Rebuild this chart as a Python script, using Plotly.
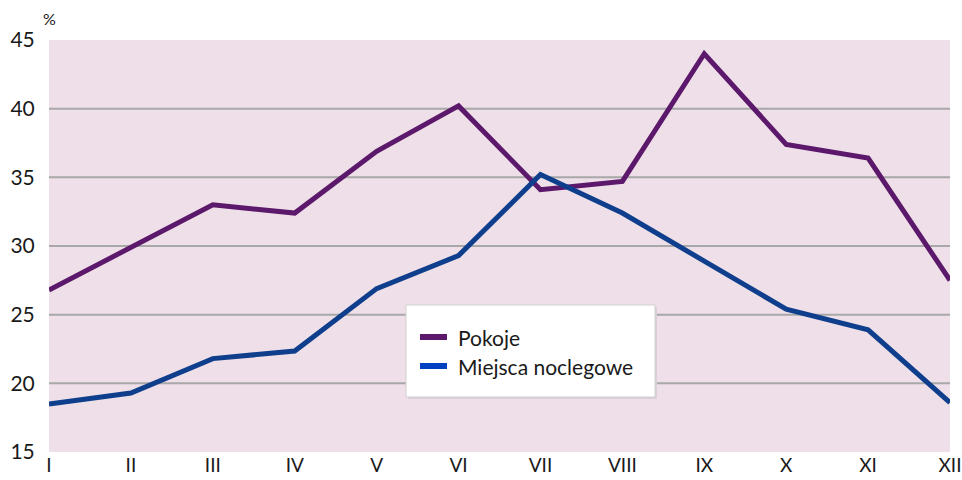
import plotly.graph_objects as go

months = ["I", "II", "III", "IV", "V", "VI", "VII", "VIII", "IX", "X", "XI", "XII"]
pokoje = [26.8, 29.9, 33.0, 32.4, 36.9, 40.2, 34.1, 34.7, 44.0, 37.4, 36.4, 27.5]
miejsca = [18.5, 19.3, 21.8, 22.35, 26.9, 29.3, 35.2, 32.4, 28.9, 25.4, 23.9, 18.6]
series_names = ["Pokoje", "Miejsca noclegowe"]
grid_values = [20, 25, 30, 35, 40]
y_ticks = [15, 20, 25, 30, 35, 40, 45]

purple = "#5c186b"
blue = "#0f3f8c"
legend_colors = [purple, "#0041c2"]
font = "Lato, 'Open Sans', sans-serif"

L, R, T, B = 49, 12, 40, 28
W, H = 962, 480
pw, ph = W - L - R, H - T - B


def px(xp):
    return (xp - L) / pw


def py(yp):
    return (H - B - yp) / ph


fig = go.Figure()
x = list(range(len(months)))
fig.add_trace(go.Scatter(x=x, y=pokoje, mode="lines", line=dict(color=purple, width=5),
                         name=series_names[0], showlegend=False, hoverinfo="skip"))
fig.add_trace(go.Scatter(x=x, y=miejsca, mode="lines", line=dict(color=blue, width=5),
                         name=series_names[1], showlegend=False, hoverinfo="skip"))

for v in grid_values:
    fig.add_hline(y=v, line=dict(color="#a8a8a8", width=2), layer="below")

# legend box
fig.add_shape(type="rect", xref="paper", yref="paper",
              x0=px(408), x1=px(657), y0=py(399), y1=py(307),
              fillcolor="#d8d0d6", line=dict(width=0), layer="above")
fig.add_shape(type="rect", xref="paper", yref="paper",
              x0=px(406), x1=px(655), y0=py(397), y1=py(305),
              fillcolor="white", line=dict(color="#d0d0d0", width=1), layer="above")
annotations = []
for i, (nm, col) in enumerate(zip(series_names, legend_colors)):
    yy = 337 + i * 29
    fig.add_shape(type="line", xref="paper", yref="paper",
                  x0=px(420), x1=px(447), y0=py(yy), y1=py(yy),
                  line=dict(color=col, width=6), layer="above")
    annotations.append(dict(text=nm, x=px(456), y=py(yy), xref="paper", yref="paper",
                            xanchor="left", yanchor="middle", showarrow=False,
                            font=dict(size=21, color="#1a1a1a")))

annotations.append(dict(text="%", x=0.0, y=1.0, xref="paper", yref="paper",
                        xanchor="left", yanchor="bottom", yshift=10, xshift=-8,
                        showarrow=False, font=dict(size=16, color="#1a1a1a")))

fig.update_layout(
    width=W, height=H,
    margin=dict(l=L, r=R, t=T, b=B),
    paper_bgcolor="white",
    plot_bgcolor="#eedfe8",
    font=dict(family=font, size=21, color="#1a1a1a"),
    showlegend=False,
    xaxis=dict(range=[0, 11], tickmode="array", tickvals=x, ticktext=months,
               showgrid=False, zeroline=False, ticks="", ticklabeloverflow="allow",
               tickfont=dict(size=19), automargin=False),
    yaxis=dict(range=[15, 45], tickmode="array", tickvals=y_ticks,
               showgrid=False, zeroline=False, ticks="outside", ticklen=9,
               tickcolor="rgba(0,0,0,0)", tickfont=dict(size=21), automargin=False),
    annotations=annotations,
)

fig.write_html("out.html", config={"displayModeBar": False},
               post_script="document.body.style.margin='0';document.body.style.overflow='hidden';")
